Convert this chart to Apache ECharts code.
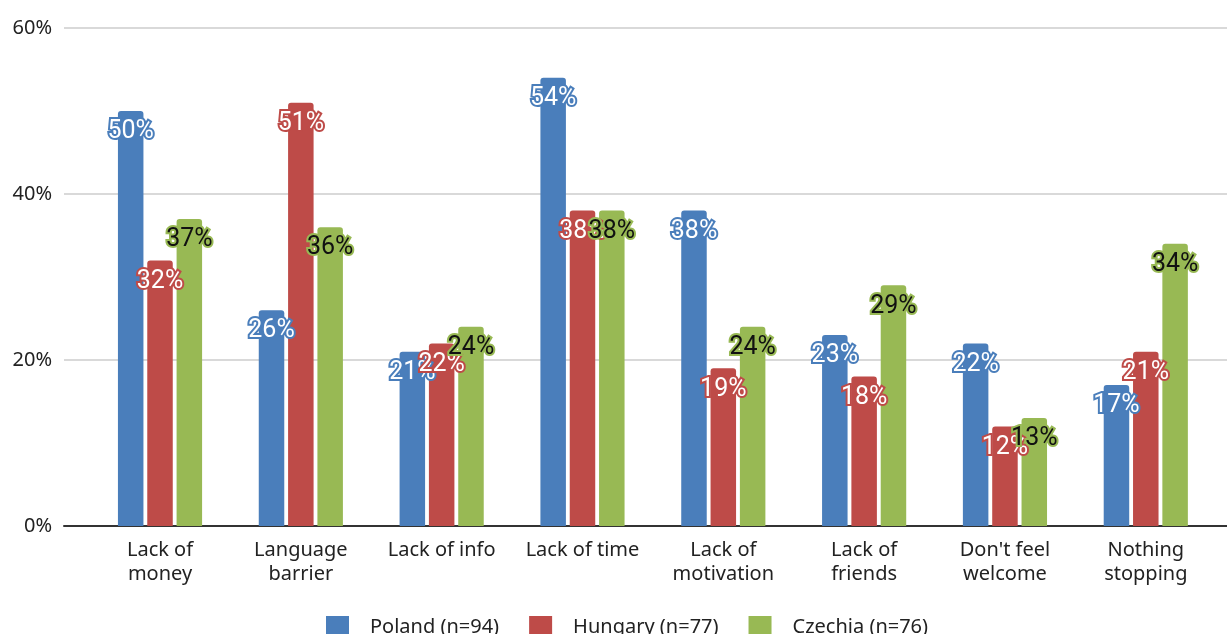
<!DOCTYPE html>
<html>
<head>
<meta charset="utf-8">
<script src="https://cdn.jsdelivr.net/npm/echarts@6/dist/echarts.min.js"></script>
<style>
  html, body { margin: 0; padding: 0; background: #fff; }
  #chart { width: 1227px; height: 634px; }
</style>
</head>
<body>
<div id="chart"></div>
<script>
// Barriers to participation, share of respondents per country
const categories = [
  'Lack of\nmoney', 'Language\nbarrier', 'Lack of info', 'Lack of time',
  'Lack of\nmotivation', 'Lack of\nfriends', "Don't feel\nwelcome", 'Nothing\nstopping'
];
const seriesNames = ['Poland (n=94)', 'Hungary (n=77)', 'Czechia (n=76)'];
const poland  = [50, 26, 21, 54, 38, 23, 22, 17];
const hungary = [32, 51, 22, 38, 19, 18, 12, 21];
const czechia = [37, 36, 24, 38, 24, 29, 13, 34];
const yTicks = [0, 20, 40, 60];

const colors = ['#4a7ebb', '#be4b48', '#98b954'];
const textColors = ['#ffffff', '#ffffff', '#111111'];
const FONT = '"Noto Sans", "Open Sans", sans-serif';

function barSeries(i, data) {
  return {
    name: seriesNames[i],
    type: 'bar',
    xAxisIndex: 1,
    yAxisIndex: 1,
    data: data,
    barWidth: 25.5,
    barGap: '15%',
    itemStyle: { color: colors[i], borderRadius: [3, 3, 0, 0] },
    label: {
      show: true,
      position: 'insideTop',
      distance: 7,
      formatter: '{c}%',
      fontFamily: 'Roboto, sans-serif',
      fontSize: 25,
      lineHeight: 28,
      color: textColors[i],
      textBorderColor: colors[i],
      textBorderWidth: 4
    }
  };
}

const chart = echarts.init(document.getElementById('chart'), null, { renderer: 'canvas' });
chart.setOption({
  animation: false,
  backgroundColor: '#ffffff',
  legend: {
    data: seriesNames,
    left: 321,
    top: 611,
    itemWidth: 23,
    itemHeight: 23,
    itemGap: 30,
    icon: 'rect',
    textStyle: { fontFamily: FONT, fontSize: 20, color: '#222', padding: [0, 0, 0, 16] }
  },
  grid: [
    // background grid: value gridlines, percent labels and baseline across full width
    { left: 64, right: 0, top: 28, bottom: 108 },
    // bar area
    { left: 89.6, right: 10.8, top: 28, bottom: 108 }
  ],
  xAxis: [
    {
      gridIndex: 0, type: 'value', min: 0, max: 1,
      axisLine: { show: true, lineStyle: { color: '#333', width: 2 } },
      axisTick: { show: false }, axisLabel: { show: false }, splitLine: { show: false }
    },
    {
      gridIndex: 1, type: 'category', data: categories,
      axisLine: { show: false }, axisTick: { show: false },
      axisLabel: {
        margin: 12, fontFamily: FONT, fontSize: 20, lineHeight: 24,
        color: '#222', interval: 0
      }
    }
  ],
  yAxis: [
    {
      gridIndex: 0, type: 'value', min: yTicks[0], max: yTicks[yTicks.length - 1], interval: 20,
      axisLine: { show: false }, axisTick: { show: false },
      axisLabel: { margin: 12, formatter: '{value}%', fontFamily: FONT, fontSize: 20, color: '#222' },
      splitLine: { lineStyle: { color: '#cccccc', width: 1.5 } }
    },
    {
      gridIndex: 1, type: 'value', min: yTicks[0], max: yTicks[yTicks.length - 1], interval: 20,
      show: false
    }
  ],
  series: [
    barSeries(0, poland),
    barSeries(1, hungary),
    barSeries(2, czechia)
  ]
});
</script>
</body>
</html>
